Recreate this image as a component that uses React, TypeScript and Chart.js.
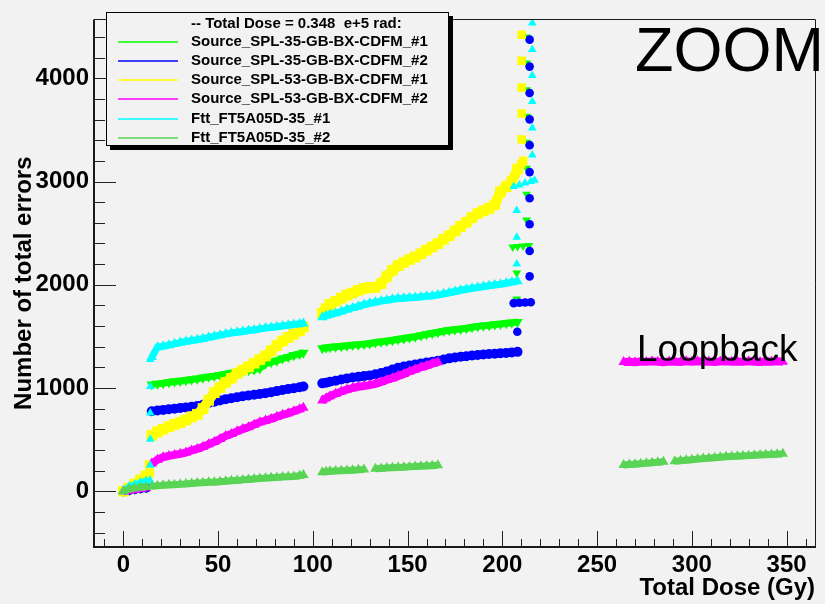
import React, { useEffect, useRef } from "react";
import { Chart, registerables } from "chart.js";

Chart.register(...registerables);

const FONT = "'Liberation Sans', Arial, Helvetica, sans-serif";
const BG = "#f2f2f2";

// ---- axis settings ----
const xRange = [-15.5, 365];
const yRange = [-540, 4570];
const xTickLabels = [0, 50, 100, 150, 200, 250, 300, 350];
const yTickLabels = [0, 1000, 2000, 3000, 4000];
const xMinorStep = 10;
const yMinorStep = 200;

// ---- legend ----
const legendHeader = "-- Total Dose = 0.348  e+5 rad:";
const legendNames = [
  "Source_SPL-35-GB-BX-CDFM_#1",
  "Source_SPL-35-GB-BX-CDFM_#2",
  "Source_SPL-53-GB-BX-CDFM_#1",
  "Source_SPL-53-GB-BX-CDFM_#2",
  "Ftt_FT5A05D-35_#1",
  "Ftt_FT5A05D-35_#2",
];
const seriesColors = ["#00ff00", "#0000ff", "#ffff00", "#ff00ff", "#00ffff", "#59d454"];

// ---- dose grids (Gy) ----
const earlyDose = [0, 3, 6, 9, 12];
const seg1Dose = [15, 18, 21, 24, 27, 30, 33, 36, 39, 42, 45, 48, 51, 54, 57, 60, 63, 66, 69, 72, 75, 78, 81, 84, 87, 90, 93, 95];
const seg2Dose = [105, 107, 109, 112, 115, 118, 121, 124, 127, 130, 133, 136, 139, 142, 145, 148, 151, 154, 157, 160, 163, 166, 169, 172, 175, 178, 181, 184, 187, 190, 193, 196, 199, 202, 205, 208];
const seg3Dose = [264, 267, 270, 273, 276, 279, 282, 285, 288, 291, 294, 297, 300, 303, 306, 309, 312, 315, 318, 321, 324, 327, 330, 333, 336, 339, 342, 345, 348];

// ---- Source_SPL-35-GB-BX-CDFM_#1 ----
const spl35a_early = [0, 12, 22, 30, 36];
const spl35a_seg1 = [1035, 1040, 1047, 1055, 1062, 1068, 1075, 1082, 1090, 1100, 1108, 1115, 1125, 1135, 1145, 1155, 1165, 1172, 1180, 1190, 1235, 1250, 1265, 1285, 1300, 1318, 1330, 1342];
const spl35a_seg2 = [1385, 1390, 1395, 1400, 1405, 1410, 1416, 1420, 1425, 1430, 1440, 1448, 1455, 1462, 1472, 1480, 1490, 1497, 1508, 1520, 1530, 1540, 1552, 1560, 1566, 1572, 1578, 1588, 1597, 1603, 1608, 1614, 1620, 1627, 1633, 1640];
const spl35a_jumpDose = [207.6, 207.6, 205.5, 208, 211, 214, 212.8, 212.8, 212.8, 212.8, 212.8, 212.8, 212.8, 212.8];
const spl35a_jumpErr = [1861, 2113, 2365, 2370, 2375, 2380, 2627, 2876, 3128, 3380, 3633, 3888, 4147, 4399];

// ---- Source_SPL-35-GB-BX-CDFM_#2 ----
const spl35b_early = [0, 10, 20, 28, 34];
const spl35b_seg1 = [775, 782, 788, 795, 800, 806, 812, 818, 825, 838, 855, 868, 880, 892, 900, 910, 920, 928, 935, 942, 950, 960, 970, 980, 990, 998, 1008, 1015];
const spl35b_seg2 = [1045, 1052, 1060, 1070, 1082, 1093, 1102, 1108, 1115, 1122, 1132, 1145, 1160, 1178, 1195, 1207, 1218, 1228, 1237, 1246, 1255, 1265, 1276, 1287, 1295, 1302, 1308, 1314, 1320, 1325, 1329, 1332, 1336, 1340, 1345, 1350];
const spl35b_jumpDose = [207.9, 206, 209, 212, 215, 214.4, 214.4, 214.4, 214.4, 214.4, 214.4, 214.4, 214.4, 214.4, 214.4];
const spl35b_jumpErr = [1545, 1822, 1825, 1828, 1830, 2081, 2327, 2586, 2838, 3091, 3352, 3602, 3857, 4113, 4374];

// ---- Source_SPL-53-GB-BX-CDFM_#1 ----
const spl53a_early = [0, 30, 70, 110, 150];
const spl53a_seg1 = [540, 575, 600, 625, 648, 665, 690, 720, 745, 800, 880, 955, 1005, 1055, 1095, 1140, 1175, 1205, 1240, 1275, 1310, 1360, 1410, 1455, 1490, 1520, 1555, 1590];
const spl53a_seg2 = [1725, 1770, 1810, 1840, 1870, 1900, 1920, 1945, 1965, 1975, 1975, 2010, 2080, 2140, 2185, 2215, 2245, 2270, 2300, 2335, 2365, 2400, 2440, 2475, 2520, 2565, 2605, 2650, 2690, 2715, 2740, 2775, 2900, 2950, 3000, 3120];
const spl53a_jumpDose = [13.5, 14, 210, 211, 210.2, 210.2, 210.2, 210.2, 210.2];
const spl53a_jumpErr = [260, 175, 3170, 3200, 3406, 3658, 3910, 4169, 4421];

// ---- Source_SPL-53-GB-BX-CDFM_#2 ----
const spl53b_early = [0, 10, 20, 28, 34];
const spl53b_seg1 = [268, 305, 330, 342, 352, 362, 375, 395, 410, 430, 455, 478, 505, 535, 555, 580, 602, 620, 645, 668, 685, 700, 722, 740, 755, 775, 795, 808];
const spl53b_seg2 = [880, 900, 920, 945, 965, 985, 1000, 1012, 1020, 1028, 1040, 1058, 1078, 1095, 1115, 1135, 1160, 1180, 1200, 1215, 1235, 1250];
const spl53b_seg3 = [1252, 1255, 1250, 1256, 1253, 1258, 1255, 1250, 1257, 1254, 1252, 1258, 1255, 1260, 1254, 1257, 1252, 1256, 1259, 1254, 1257, 1253, 1258, 1255, 1252, 1257, 1254, 1258, 1255];

// ---- Ftt_FT5A05D-35_#1 ----
const ftta_early = [0, 40, 60, 80, 95];
const ftta_seg1 = [1300, 1395, 1405, 1415, 1428, 1440, 1450, 1460, 1467, 1478, 1490, 1500, 1512, 1522, 1532, 1540, 1548, 1556, 1562, 1572, 1580, 1585, 1592, 1600, 1608, 1615, 1620, 1625];
const ftta_seg2 = [1685, 1700, 1712, 1725, 1740, 1760, 1775, 1790, 1808, 1820, 1830, 1842, 1850, 1860, 1866, 1870, 1873, 1876, 1882, 1888, 1892, 1900, 1912, 1923, 1935, 1947, 1957, 1965, 1974, 1982, 1990, 1998, 2005, 2015, 2025, 2034];
const ftta_jumpDose = [14, 14.2, 14.2, 14.2, 14.2, 14.2, 207.6, 207.6, 207.6, 206, 209, 212, 215, 217, 215.8, 215.8, 215.8, 215.8, 215.8, 215.8];
const ftta_jumpErr = [110, 252, 504, 757, 1015, 1277, 2201, 2460, 2718, 2952, 2965, 2985, 3000, 3011, 3257, 3517, 3775, 4027, 4279, 4535];

// ---- Ftt_FT5A05D-35_#2 ----
const fttb_early = [0, 20, 30, 38, 42];
const fttb_seg1 = [48, 52, 57, 60, 64, 67, 70, 75, 79, 82, 86, 88, 92, 97, 101, 105, 110, 114, 118, 123, 127, 130, 134, 137, 140, 143, 150, 158];
const fttb_seg2 = [185, 190, 193, 195, 198, 200, 204, 207, 210, null, 217, 221, 224, 227, 230, 233, 236, 239, 242, 245, 248, 252];
const fttb_seg3 = [254, 258, 262, 266, 270, 275, 280, 285, null, 291, 296, 301, 306, 311, 316, 320, 325, 329, 333, 336, 339, 342, 345, 348, 351, 354, 356, 359, 362];

type Pt = { x: number; y: number | null };
function pts(doses: number[], errors: (number | null)[]): Pt[] {
  const out: Pt[] = [];
  const n = Math.min(doses.length, errors.length);
  for (let i = 0; i < n; i++) out.push({ x: doses[i], y: errors[i] });
  // a null point breaks the band between runs
  out.push({ x: doses[n - 1], y: null });
  return out;
}

const framePlugin = {
  id: "rootFrame",
  beforeDraw(chart: any) {
    const { ctx, width, height } = chart;
    ctx.save();
    ctx.fillStyle = BG;
    ctx.fillRect(0, 0, width, height);
    ctx.restore();
  },
  beforeDatasetsDraw(chart: any) {
    const { ctx, chartArea } = chart;
    const xs = chart.scales.x;
    const ys = chart.scales.y;
    ctx.save();
    ctx.strokeStyle = "#222";
    ctx.lineWidth = 1;
    ctx.beginPath();
    for (let v = Math.ceil(xRange[0] / xMinorStep) * xMinorStep; v <= xRange[1]; v += xMinorStep) {
      const px = Math.round(xs.getPixelForValue(v)) + 0.5;
      const len = xTickLabels.includes(v) ? 16 : 8;
      ctx.moveTo(px, chartArea.bottom);
      ctx.lineTo(px, chartArea.bottom - len);
    }
    for (let v = Math.ceil(yRange[0] / yMinorStep) * yMinorStep; v <= yRange[1]; v += yMinorStep) {
      const py = Math.round(ys.getPixelForValue(v)) + 0.5;
      const len = yTickLabels.includes(v) ? 22 : 11;
      ctx.moveTo(chartArea.left, py);
      ctx.lineTo(chartArea.left + len, py);
    }
    ctx.stroke();
    ctx.restore();
  },
  afterDatasetsDraw(chart: any) {
    const { ctx, chartArea } = chart;
    const { left, right, top, bottom } = chartArea;
    ctx.save();
    ctx.strokeStyle = "#1a1a1a";
    ctx.lineWidth = 1;
    ctx.beginPath();
    ctx.moveTo(left, Math.round(top) + 0.5);
    ctx.lineTo(right, Math.round(top) + 0.5);
    ctx.moveTo(Math.round(right) + 0.5, top);
    ctx.lineTo(Math.round(right) + 0.5, bottom);
    ctx.stroke();
    ctx.lineWidth = 2;
    ctx.beginPath();
    ctx.moveTo(left, top);
    ctx.lineTo(left, bottom);
    ctx.lineTo(right + 1, bottom);
    ctx.stroke();
    ctx.restore();
  },
  afterDraw(chart: any) {
    const { ctx } = chart;
    ctx.save();
    // legend shadow + box
    ctx.fillStyle = "#000";
    ctx.fillRect(110, 16, 343, 134);
    ctx.fillStyle = BG;
    ctx.fillRect(106, 12, 343, 134);
    ctx.strokeStyle = "#000";
    ctx.lineWidth = 1;
    ctx.strokeRect(106.5, 12.5, 342, 133);
    ctx.font = `bold 15px ${FONT}`;
    ctx.fillStyle = "#000";
    ctx.textBaseline = "middle";
    ctx.textAlign = "left";
    ctx.fillText(legendHeader, 191, 23.5);
    const rows = [42, 61, 80, 99, 118.5, 137.5];
    legendNames.forEach((name, i) => {
      ctx.strokeStyle = seriesColors[i];
      ctx.lineWidth = 1.5;
      ctx.beginPath();
      ctx.moveTo(118, Math.round(rows[i]));
      ctx.lineTo(178, Math.round(rows[i]));
      ctx.stroke();
      ctx.fillStyle = "#000";
      ctx.fillText(name, 191, rows[i]);
    });
    // annotations
    ctx.textBaseline = "alphabetic";
    ctx.font = `63px ${FONT}`;
    ctx.fillText("ZOOM", 635, 70.5);
    ctx.font = `37px ${FONT}`;
    ctx.fillText("Loopback", 637, 361);
    ctx.restore();
  },
};

export default function App() {
  const ref = useRef<HTMLCanvasElement | null>(null);
  useEffect(() => {
    document.body.style.margin = "0";
    document.body.style.background = BG;
    const canvas = ref.current;
    if (!canvas) return;

    // dense band runs are drawn as thick strokes plus markers; isolated jump points as markers only
    const mk = (i: number, style: string, bandR: number, jumpR: number, rotation: number, order: number, lineW: number, band: Pt[], jumps: Pt[]) => {
      const data = [...band, ...jumps];
      const jumpStart = band.length;
      const radii = [...band.map(() => bandR), ...jumps.map(() => jumpR)];
      const color = seriesColors[i];
      return {
        label: legendNames[i],
        data,
        showLine: true,
        spanGaps: false,
        borderWidth: lineW,
        borderCapStyle: "butt",
        borderJoinStyle: "round",
        tension: 0,
        segment: {
          borderColor: (c: any) => (c.p1DataIndex >= jumpStart ? "rgba(0,0,0,0)" : color),
        },
        pointStyle: style,
        pointRadius: radii,
        pointHoverRadius: radii,
        pointRotation: rotation,
        pointBackgroundColor: color,
        pointBorderColor: color,
        pointBorderWidth: 0,
        backgroundColor: color,
        borderColor: color,
        order,
      };
    };

    const datasets = [
      mk(0, "triangle", 6, 5, 180, 5, 7,
        [...pts(earlyDose, spl35a_early), ...pts(seg1Dose, spl35a_seg1), ...pts(seg2Dose, spl35a_seg2)],
        pts(spl35a_jumpDose, spl35a_jumpErr)),
      mk(1, "circle", 5, 4.3, 0, 4, 8,
        [...pts(earlyDose, spl35b_early), ...pts(seg1Dose, spl35b_seg1), ...pts(seg2Dose, spl35b_seg2)],
        pts(spl35b_jumpDose, spl35b_jumpErr)),
      mk(2, "rect", 7.5, 6, 0, 3, 10,
        [...pts(earlyDose, spl53a_early), ...pts(seg1Dose, spl53a_seg1), ...pts(seg2Dose, spl53a_seg2)],
        pts(spl53a_jumpDose, spl53a_jumpErr)),
      mk(3, "triangle", 6, 5, 0, 2, 8,
        [...pts(earlyDose, spl53b_early), ...pts(seg1Dose, spl53b_seg1), ...pts(seg2Dose, spl53b_seg2), ...pts(seg3Dose, spl53b_seg3)],
        []),
      mk(4, "triangle", 6, 5, 0, 1, 7,
        [...pts(earlyDose, ftta_early), ...pts(seg1Dose, ftta_seg1), ...pts(seg2Dose, ftta_seg2)],
        pts(ftta_jumpDose, ftta_jumpErr)),
      mk(5, "triangle", 6, 5, 0, 0, 7,
        [...pts(earlyDose, fttb_early), ...pts(seg1Dose, fttb_seg1), ...pts(seg2Dose, fttb_seg2), ...pts(seg3Dose, fttb_seg3)],
        []),
    ];

    const tickFont = { family: FONT, size: 24, weight: "bold" as const };

    const chart = new Chart(canvas, {
      type: "scatter",
      data: { datasets: datasets as any },
      options: {
        responsive: false,
        animation: false,
        events: [],
        layout: { padding: { left: 0, top: 7, right: 10, bottom: 0 } },
        plugins: { legend: { display: false }, tooltip: { enabled: false } },
        scales: {
          x: {
            type: "linear",
            min: xRange[0],
            max: xRange[1],
            grid: { display: false, drawTicks: false },
            border: { display: false },
            afterBuildTicks: (s: any) => {
              s.ticks = xTickLabels.map((v) => ({ value: v }));
            },
            ticks: {
              autoSkip: false,
              maxRotation: 0,
              color: "#000",
              font: tickFont,
              padding: 4,
              callback: (v: any) => String(v),
            },
            title: {
              display: true,
              text: "Total Dose (Gy)",
              align: "end",
              color: "#000",
              font: tickFont,
              padding: { top: 0, bottom: 1 },
            },
            afterFit: (s: any) => {
              s.height = 57;
            },
          },
          y: {
            type: "linear",
            min: yRange[0],
            max: yRange[1],
            grid: { display: false, drawTicks: false },
            border: { display: false },
            afterBuildTicks: (s: any) => {
              s.ticks = yTickLabels.map((v) => ({ value: v }));
            },
            ticks: {
              autoSkip: false,
              color: "#000",
              font: tickFont,
              padding: 5,
              callback: (v: any) => String(v),
            },
            title: {
              display: true,
              text: "Number of total errors",
              align: "center",
              color: "#000",
              font: tickFont,
              padding: { top: 10, bottom: 0 },
            },
            afterFit: (s: any) => {
              s.width = 94;
            },
          },
        },
      } as any,
      plugins: [framePlugin],
    });
    return () => chart.destroy();
  }, []);

  return <canvas ref={ref} width={825} height={604} style={{ display: "block" }} />;
}
